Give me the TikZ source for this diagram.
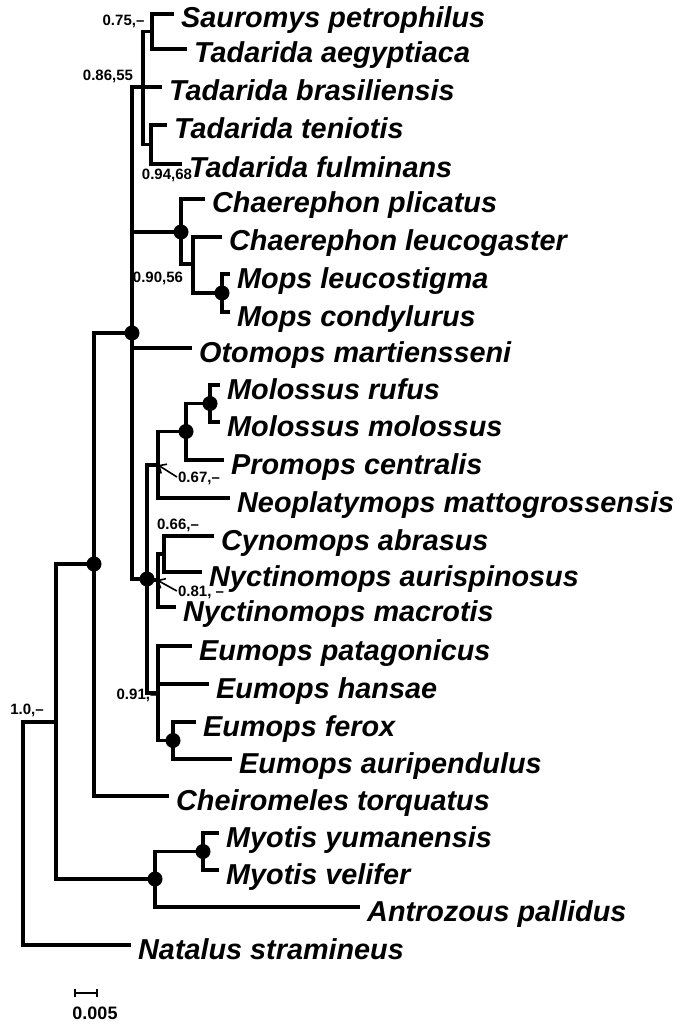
\documentclass[tikz,border=0pt]{standalone}
\usepackage{fontspec}
\setmainfont{Liberation Sans}
\usetikzlibrary{arrows.meta}
\begin{document}
\begin{tikzpicture}[x=1pt,y=-1pt,
  br/.style={line width=3.3pt, line cap=rect, line join=miter},
  sp/.style={anchor=base west, inner sep=0pt, font=\fontsize{28.8}{31}\selectfont\bfseries\itshape},
  sup/.style={inner sep=0pt, font=\fontsize{15}{17}\selectfont\bfseries},
  supdot/.style={fill=black},
  arr/.style={line width=1.6pt, -{Straight Barb[length=6pt,width=11pt,line width=1.6pt]}}
  ]
\useasboundingbox (0,0) rectangle (676,1024);

% internal nodes
\coordinate (root) at (23,833.5);
\coordinate (n1)   at (56,722);
\coordinate (mol)  at (94,564);
\coordinate (core) at (132,333);
\coordinate (tad)  at (143,87);
\coordinate (sautad) at (152,31.5);
\coordinate (tenful) at (151,144.5);
\coordinate (cha)  at (181,232);
\coordinate (chm)  at (193,264);
\coordinate (mops) at (222,293);
\coordinate (ame)  at (147,579);
\coordinate (mpn)  at (158,465);
\coordinate (mmp)  at (186,431.5);
\coordinate (molo) at (210,403.5);
\coordinate (nyc)  at (158,580);
\coordinate (cyn)  at (164,554);
\coordinate (eum)  at (158,693);
\coordinate (fa)   at (173,740.5);
\coordinate (ves)  at (155,879);
\coordinate (myo)  at (203,851.5);

% leaves
\coordinate (saur) at (172,14);
\coordinate (aegy) at (185,49);
\coordinate (bras) at (160,87);
\coordinate (teni) at (165,125);
\coordinate (fulm) at (180,164);
\coordinate (plic) at (203,199);
\coordinate (leuc) at (220,237);
\coordinate (lsti) at (228,274);
\coordinate (cond) at (228,312);
\coordinate (otom) at (190,348);
\coordinate (rufu) at (218,385);
\coordinate (moss) at (218,422);
\coordinate (prom) at (222,460);
\coordinate (neop) at (228,498);
\coordinate (cyno) at (212,536);
\coordinate (auri) at (200,572);
\coordinate (macr) at (174,607);
\coordinate (pata) at (190,646);
\coordinate (hans) at (207,684);
\coordinate (fero) at (194,722);
\coordinate (aupe) at (230,759);
\coordinate (chei) at (167,796);
\coordinate (yuma) at (217,833);
\coordinate (veli) at (217,870);
\coordinate (antr) at (358,907);
\coordinate (nata) at (129,945);

% branches
\draw[br] (root) |- (n1);
\draw[br] (root) |- (nata);
\draw[br] (n1) |- (mol);
\draw[br] (n1) |- (ves);
\draw[br] (mol) |- (core);
\draw[br] (mol) |- (chei);
\draw[br] (core) |- (tad);
\draw[br] (core) |- (cha);
\draw[br] (core) |- (otom);
\draw[br] (core) |- (ame);
\draw[br] (tad) |- (sautad);
\draw[br] (tad) |- (bras);
\draw[br] (tad) |- (tenful);
\draw[br] (sautad) |- (saur);
\draw[br] (sautad) |- (aegy);
\draw[br] (tenful) |- (teni);
\draw[br] (tenful) |- (fulm);
\draw[br] (cha) |- (plic);
\draw[br] (cha) |- (chm);
\draw[br] (chm) |- (leuc);
\draw[br] (chm) |- (mops);
\draw[br] (mops) |- (lsti);
\draw[br] (mops) |- (cond);
\draw[br] (ame) |- (mpn);
\draw[br] (ame) |- (nyc);
\draw[br] (ame) |- (eum);
\draw[br] (mpn) |- (mmp);
\draw[br] (mpn) |- (neop);
\draw[br] (mmp) |- (molo);
\draw[br] (mmp) |- (prom);
\draw[br] (molo) |- (rufu);
\draw[br] (molo) |- (moss);
\draw[br] (nyc) |- (cyn);
\draw[br] (nyc) |- (macr);
\draw[br] (cyn) |- (cyno);
\draw[br] (cyn) |- (auri);
\draw[br] (eum) |- (pata);
\draw[br] (eum) |- (hans);
\draw[br] (eum) |- (fa);
\draw[br] (fa) |- (fero);
\draw[br] (fa) |- (aupe);
\draw[br] (ves) |- (myo);
\draw[br] (ves) |- (antr);
\draw[br] (myo) |- (yuma);
\draw[br] (myo) |- (veli);

% dots
\foreach \c in {mol,core,cha,mops,mmp,molo,ame,fa,ves,myo}
  \fill[supdot] (\c) circle[radius=7.5pt];

% taxon labels
\node[sp] (tsaur) at ([xshift=9pt,yshift=-14pt]saur) {Sauromys petrophilus};
\node[sp] (taegy) at ([xshift=9pt,yshift=-14pt]aegy) {Tadarida aegyptiaca};
\node[sp] (tbras) at ([xshift=9pt,yshift=-14pt]bras) {Tadarida brasiliensis};
\node[sp] (tteni) at ([xshift=9pt,yshift=-14pt]teni) {Tadarida teniotis};
\node[sp] (tfulm) at ([xshift=9pt,yshift=-14pt]fulm) {Tadarida fulminans};
\node[sp] (tplic) at ([xshift=9pt,yshift=-14pt]plic) {Chaerephon plicatus};
\node[sp] (tleuc) at ([xshift=9pt,yshift=-14pt]leuc) {Chaerephon leucogaster};
\node[sp] (tlsti) at ([xshift=9pt,yshift=-14pt]lsti) {Mops leucostigma};
\node[sp] (tcond) at ([xshift=9pt,yshift=-14pt]cond) {Mops condylurus};
\node[sp] (totom) at ([xshift=9pt,yshift=-14pt]otom) {Otomops martiensseni};
\node[sp] (trufu) at ([xshift=9pt,yshift=-14pt]rufu) {Molossus rufus};
\node[sp] (tmoss) at ([xshift=9pt,yshift=-14pt]moss) {Molossus molossus};
\node[sp] (tprom) at ([xshift=9pt,yshift=-14pt]prom) {Promops centralis};
\node[sp] (tneop) at ([xshift=9pt,yshift=-14pt]neop) {Neoplatymops mattogrossensis};
\node[sp] (tcyno) at ([xshift=9pt,yshift=-14pt]cyno) {Cynomops abrasus};
\node[sp] (tauri) at ([xshift=9pt,yshift=-14pt]auri) {Nyctinomops aurispinosus};
\node[sp] (tmacr) at ([xshift=9pt,yshift=-14pt]macr) {Nyctinomops macrotis};
\node[sp] (tpata) at ([xshift=9pt,yshift=-14pt]pata) {Eumops patagonicus};
\node[sp] (thans) at ([xshift=9pt,yshift=-14pt]hans) {Eumops hansae};
\node[sp] (tfero) at ([xshift=9pt,yshift=-14pt]fero) {Eumops ferox};
\node[sp] (taupe) at ([xshift=9pt,yshift=-14pt]aupe) {Eumops auripendulus};
\node[sp] (tchei) at ([xshift=9pt,yshift=-14pt]chei) {Cheiromeles torquatus};
\node[sp] (tyuma) at ([xshift=9pt,yshift=-14pt]yuma) {Myotis yumanensis};
\node[sp] (tveli) at ([xshift=9pt,yshift=-14pt]veli) {Myotis velifer};
\node[sp] (tantr) at ([xshift=9pt,yshift=-14pt]antr) {Antrozous pallidus};
\node[sp] (tnata) at ([xshift=9pt,yshift=-14pt]nata) {Natalus stramineus};

% support labels
\node[sup] (s075) at (123.5,21) {0.75,–};
\node[sup] (s086) at (108,76) {0.86,55};
\node[sup] (s094) at (167,175) {0.94,68};
\node[sup] (s090) at (158,278) {0.90,56};
\node[sup] (s067) at (199,478) {0.67,–};
\node[sup] (s066) at (178,525) {0.66,–};
\node[sup] (s081) at (201,592) {0.81, –};
\node[sup] (s091) at (137.5,695) {0.91,–};
\node[sup] (s10)  at (27,710) {1.0,–};

\draw[arr] ([xshift=-1pt,yshift=1pt]s067.west) -- (mpn);
\draw[arr] ([xshift=-1pt,yshift=1pt]s081.west) -- ([xshift=-1pt]nyc);

% scale bar
\coordinate (sb1) at (75,993);
\coordinate (sb2) at (97,993);
\draw[line width=2pt] (sb1) -- (sb2);
\draw[line width=2pt] ([yshift=4pt]sb1) -- ([yshift=-4pt]sb1);
\draw[line width=2pt] ([yshift=4pt]sb2) -- ([yshift=-4pt]sb2);
\node[inner sep=0pt, font=\fontsize{18}{20}\selectfont\bfseries] (sbl) at (95,1013) {0.005};
\end{tikzpicture}
\end{document}
